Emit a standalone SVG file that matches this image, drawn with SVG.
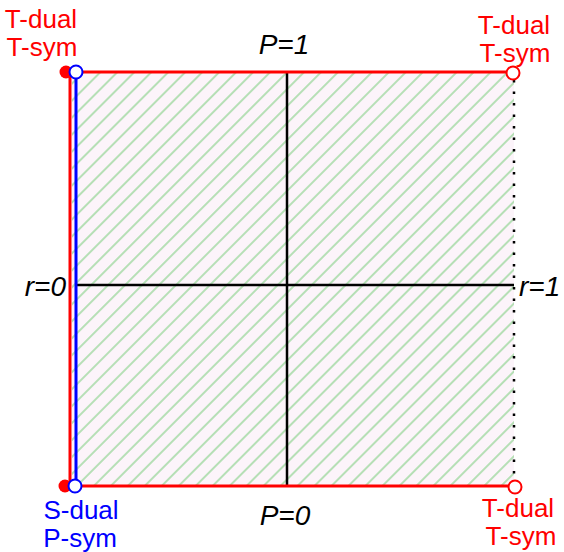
<svg xmlns="http://www.w3.org/2000/svg" width="564" height="552" viewBox="0 0 564 552">
<style>
.lbl{font-family:"Liberation Sans",Arial,sans-serif;font-size:26px;text-anchor:middle}
.red{fill:#ff0000}
.blue{fill:#0000ff}
.ax{font-family:"Liberation Sans",Arial,sans-serif;font-size:28px;font-style:italic;fill:#000}
.redline{stroke:#ff0000;stroke-width:3;fill:none}
.blk{stroke:#000;stroke-width:2.5;fill:none}
.open-r{fill:#fff;stroke:#ff0000;stroke-width:2}
.open-b{fill:#fff;stroke:#0000ff;stroke-width:2}
</style>
<defs>
<pattern id="hatch" patternUnits="userSpaceOnUse" width="12" height="12" patternTransform="rotate(45)">
<rect width="12" height="12" fill="#fcf4fa"/>
<line x1="2" y1="0" x2="2" y2="12" stroke="#9fd89f" stroke-width="1.5"/>
</pattern>
</defs>
<rect id="region" x="72" y="72" width="442" height="414" fill="url(#hatch)"/>
<g id="connectors">
<line class="blk" x1="287" y1="72" x2="287" y2="486"/>
<line class="blk" x1="76" y1="285" x2="514" y2="285"/>
<line x1="514" y1="80" x2="514" y2="486" stroke="#000" stroke-width="2.5" stroke-dasharray="2.5 9"/>
<line class="redline" x1="70" y1="72" x2="514" y2="72"/>
<line class="redline" x1="70" y1="486" x2="514" y2="486"/>
<line class="redline" x1="70" y1="72" x2="70" y2="486"/>
<line x1="76" y1="72" x2="76" y2="486" stroke="#0000ff" stroke-width="3"/>
</g>
<g id="node-top-left">
<circle cx="66" cy="72" r="6.5" fill="#ff0000"/>
<circle class="open-b" cx="76" cy="72" r="6.5"/>
<text class="lbl red" x="41" y="28">T-dual</text>
<text class="lbl red" x="42" y="56">T-sym</text>
</g>
<g id="node-top-right">
<circle class="open-r" cx="513" cy="73" r="6.5"/>
<text class="lbl red" x="514" y="34">T-dual</text>
<text class="lbl red" x="515" y="62">T-sym</text>
</g>
<g id="node-bottom-left">
<circle cx="65" cy="486" r="6.5" fill="#ff0000"/>
<circle class="open-b" cx="75" cy="486" r="6.5"/>
<text class="lbl blue" x="81" y="519">S-dual</text>
<text class="lbl blue" x="80" y="547">P-sym</text>
</g>
<g id="node-bottom-right">
<circle class="open-r" cx="515" cy="487" r="6.5"/>
<text class="lbl red" x="518" y="517">T-dual</text>
<text class="lbl red" x="521" y="545">T-sym</text>
</g>
<g id="labels">
<text class="ax" x="284" y="54" text-anchor="middle">P=1</text>
<text class="ax" x="285" y="525" text-anchor="middle">P=0</text>
<text class="ax" x="66" y="296" text-anchor="end">r=0</text>
<text class="ax" x="519" y="296">r=1</text>
</g>
</svg>
